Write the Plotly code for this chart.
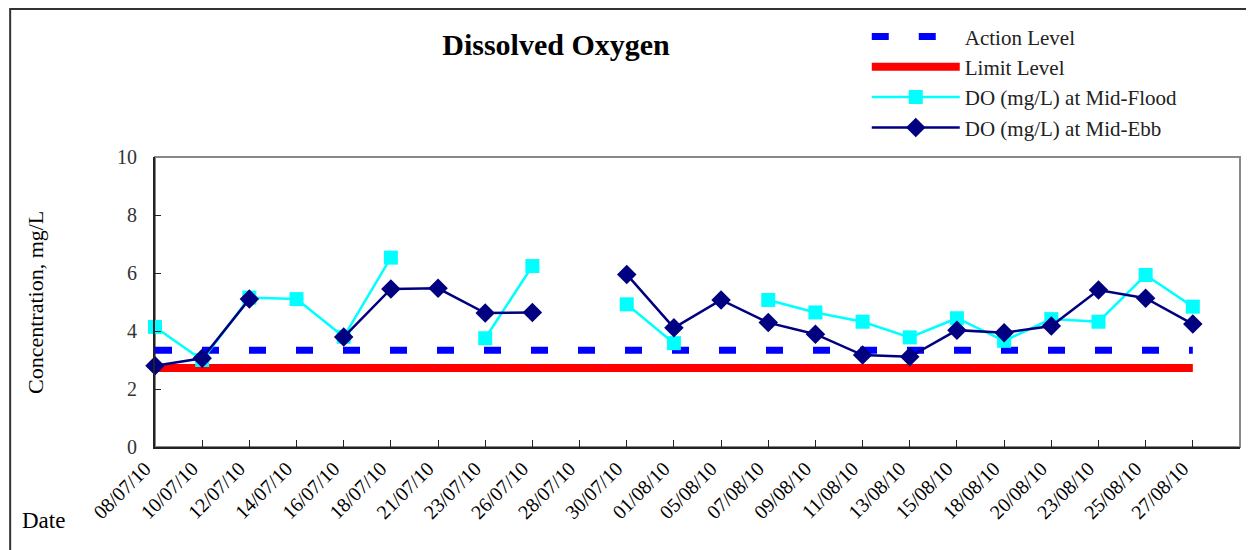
import plotly.graph_objects as go

dates = ["08/07/10", "10/07/10", "12/07/10", "14/07/10", "16/07/10", "18/07/10",
         "21/07/10", "23/07/10", "26/07/10", "28/07/10", "30/07/10", "01/08/10",
         "05/08/10", "07/08/10", "09/08/10", "11/08/10", "13/08/10", "15/08/10",
         "18/08/10", "20/08/10", "23/08/10", "25/08/10", "27/08/10"]

do_mid_flood = [4.14, 3.0, 5.15, 5.1, 3.8, 6.53, None, 3.75, 6.24, None, 4.92, 3.58,
                None, 5.07, 4.64, 4.32, 3.78, 4.44, 3.66, 4.41, 4.32, 5.93, 4.84]
do_mid_ebb = [2.8, 3.06, 5.1, None, 3.79, 5.45, 5.47, 4.62, 4.64, None, 5.95, 4.11,
              5.07, 4.29, 3.89, 3.17, 3.11, 4.03, 3.94, 4.17, 5.41, 5.13, 4.24]

action_level = 3.34
limit_level = 2.72

FONT = "Liberation Serif"

fig = go.Figure()
fig.add_trace(go.Scatter(x=[dates[0], dates[-1]], y=[action_level, action_level],
                         mode="lines", name="Action Level",
                         line=dict(color="#0000FF", width=7, dash="17px,30px")))
fig.add_trace(go.Scatter(x=[dates[0], dates[-1]], y=[limit_level, limit_level],
                         mode="lines", name="Limit Level",
                         line=dict(color="#FF0000", width=8)))
fig.add_trace(go.Scatter(x=dates, y=do_mid_flood, mode="lines+markers",
                         name="DO (mg/L) at Mid-Flood", cliponaxis=False,
                         line=dict(color="#00FFFF", width=2.5),
                         marker=dict(symbol="square", size=14, color="#00FFFF")))
fig.add_trace(go.Scatter(x=dates, y=do_mid_ebb, mode="lines+markers",
                         name="DO (mg/L) at Mid-Ebb", cliponaxis=False,
                         line=dict(color="#000080", width=2.5),
                         marker=dict(symbol="diamond", size=15, color="#000080")))

# page body has an 8px margin, so the figure is offset by 8px right and down
fig.update_layout(
    width=1254, height=550,
    margin=dict(l=147, r=22, t=149, b=111, autoexpand=False),
    paper_bgcolor="white", plot_bgcolor="white",
    font=dict(family=FONT, color="black"),
    title=dict(text="<b>Dissolved Oxygen</b>", x=0.437, xref="container", xanchor="center",
               y=0.933, yref="container", yanchor="middle",
               font=dict(size=30, family=FONT, color="black")),
    showlegend=True,
    legend=dict(x=0.656, y=1.485, xanchor="left", yanchor="top",
                font=dict(size=21, family=FONT, color="#222"),
                itemwidth=88, bgcolor="rgba(0,0,0,0)", tracegroupgap=0),
    shapes=[
        dict(type="rect", xref="paper", yref="paper", x0=0, x1=1, y0=0, y1=1,
             line=dict(color="#888888", width=2), layer="below"),
        dict(type="rect", xref="paper", yref="paper", x0=-0.1335, x1=1.03, y0=-0.42, y1=1.51,
             line=dict(color="#333333", width=2)),
    ],
    annotations=[
        dict(text="Concentration, mg/L", xref="paper", yref="paper", x=-0.1106, y=0.5,
             xanchor="center", yanchor="middle",
             textangle=-90, showarrow=False, font=dict(size=22, family=FONT, color="black")),
        dict(text="Date", xref="paper", yref="paper", x=-0.103, y=-0.252,
             xanchor="center", yanchor="middle",
             showarrow=False, font=dict(size=23, family=FONT, color="black")),
    ],
)

fig.update_xaxes(type="category", categoryorder="array", categoryarray=dates,
                 range=[0, 23], showgrid=False, zeroline=False,
                 showline=True, linecolor="#222", linewidth=2,
                 ticks="inside", ticklen=7, tickcolor="#222", tickangle=-45,
                 ticklabelstandoff=0, ticklabelshift=-10,
                 tickfont=dict(size=20, family=FONT, color="black"))
fig.update_yaxes(range=[0, 10], dtick=2, showgrid=False, zeroline=False,
                 showline=True, linecolor="#222", linewidth=2,
                 ticks="inside", ticklen=6, tickcolor="#222",
                 ticklabelstandoff=12,
                 tickfont=dict(size=20, family=FONT, color="#333"))

fig.write_html("out.html")
